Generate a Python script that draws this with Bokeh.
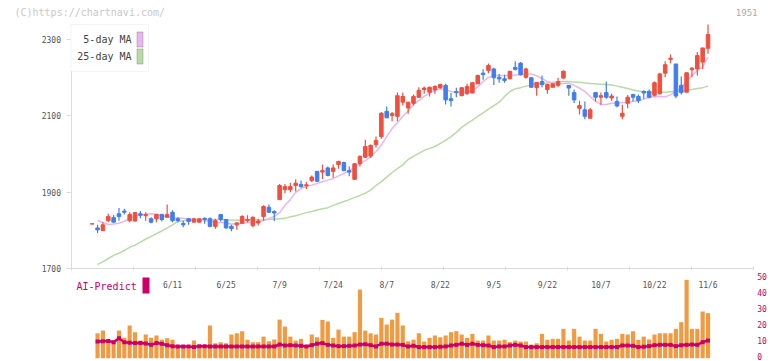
import numpy as np
from bokeh.plotting import figure
from bokeh.models import Range1d, LinearAxis, FixedTicker, Label, BoxAnnotation, ColumnDataSource
from bokeh.embed import file_html
from bokeh.resources import INLINE

# ---------------- data ----------------
dates = ["5/21", "5/22", "5/23", "5/26", "5/27", "5/28", "5/29", "5/30",
         "6/2", "6/3", "6/4", "6/5", "6/6", "6/9", "6/10", "6/11", "6/12", "6/13",
         "6/16", "6/17", "6/18", "6/19", "6/20", "6/23", "6/24", "6/25", "6/26", "6/27", "6/30",
         "7/1", "7/2", "7/3", "7/4", "7/7", "7/8", "7/9", "7/10", "7/11", "7/14", "7/15",
         "7/16", "7/17", "7/18", "7/22", "7/23", "7/24", "7/25", "7/28", "7/29", "7/30", "7/31",
         "8/1", "8/4", "8/5", "8/6", "8/7", "8/8", "8/12", "8/13", "8/14", "8/15",
         "8/18", "8/19", "8/20", "8/21", "8/22", "8/25", "8/26", "8/27", "8/28", "8/29",
         "9/1", "9/2", "9/3", "9/4", "9/5", "9/8", "9/9", "9/10", "9/11", "9/12",
         "9/16", "9/17", "9/18", "9/19", "9/22", "9/24", "9/25", "9/26", "9/29", "9/30",
         "10/1", "10/2", "10/3", "10/6", "10/7", "10/8", "10/9", "10/10", "10/14", "10/15",
         "10/16", "10/17", "10/20", "10/21", "10/22", "10/23", "10/24", "10/27", "10/28",
         "10/29", "10/30", "10/31", "11/4", "11/5", "11/6"]

opens = [1817, 1807, 1800, 1826, 1834, 1844, 1851, 1826, 1825, 1844,
         1839, 1831, 1831, 1842, 1835, 1848, 1831, 1819, 1831, 1822,
         1822, 1832, 1831, 1811, 1842, 1829, 1811, 1815, 1819, 1826,
         1813, 1820, 1837, 1861, 1850, 1881, 1907, 1907, 1918, 1921,
         1917, 1931, 1955, 1953, 1964, 1955, 1973, 1978, 1957, 1934,
         1975, 1992, 1995, 2025, 2046, 2112, 2101, 2099, 2136, 2121,
         2133, 2149, 2169, 2162, 2168, 2174, 2180, 2145, 2164, 2153,
         2158, 2160, 2184, 2212, 2219, 2223, 2201, 2197, 2197, 2227,
         2238, 2201, 2200, 2174, 2190, 2169, 2175, 2180, 2199, 2180,
         2161, 2120, 2116, 2094, 2161, 2149, 2161, 2147, 2138, 2099,
         2133, 2156, 2151, 2164, 2164, 2154, 2158, 2212, 2248, 2236,
         2180, 2162, 2221, 2223, 2241, 2277]
highs = [1818, 1815, 1822, 1844, 1841, 1859, 1857, 1848, 1848, 1851,
         1848, 1835, 1844, 1844, 1868, 1853, 1835, 1826, 1831, 1831,
         1831, 1835, 1835, 1831, 1842, 1829, 1815, 1822, 1840, 1840,
         1837, 1831, 1866, 1868, 1853, 1922, 1922, 1925, 1934, 1931,
         1928, 1944, 1955, 1973, 1968, 1973, 1983, 1980, 1968, 1977,
         1997, 2038, 2025, 2046, 2110, 2125, 2110, 2161, 2161, 2136,
         2156, 2175, 2177, 2177, 2180, 2184, 2184, 2160, 2174, 2174,
         2184, 2187, 2208, 2222, 2237, 2226, 2210, 2208, 2217, 2243,
         2241, 2226, 2201, 2188, 2206, 2184, 2184, 2200, 2219, 2180,
         2169, 2140, 2138, 2121, 2161, 2161, 2190, 2158, 2151, 2129,
         2155, 2158, 2156, 2167, 2169, 2190, 2213, 2243, 2261, 2236,
         2203, 2213, 2228, 2267, 2278, 2339]
lows = [1817, 1794, 1800, 1822, 1822, 1826, 1842, 1822, 1824, 1832,
        1826, 1819, 1822, 1824, 1835, 1822, 1822, 1809, 1815, 1822,
        1822, 1818, 1809, 1805, 1824, 1805, 1798, 1802, 1818, 1822,
        1809, 1813, 1826, 1846, 1825, 1880, 1898, 1900, 1902, 1912,
        1909, 1927, 1927, 1935, 1942, 1938, 1962, 1955, 1942, 1934,
        1968, 1990, 1990, 2017, 2040, 2095, 2086, 2086, 2127, 2106,
        2127, 2147, 2158, 2151, 2158, 2171, 2130, 2125, 2149, 2153,
        2156, 2160, 2184, 2195, 2212, 2181, 2187, 2187, 2197, 2219,
        2206, 2197, 2174, 2153, 2175, 2158, 2175, 2175, 2197, 2153,
        2134, 2104, 2091, 2094, 2138, 2129, 2145, 2140, 2123, 2091,
        2120, 2138, 2134, 2145, 2146, 2151, 2156, 2201, 2238, 2146,
        2156, 2162, 2201, 2206, 2223, 2263]
closes = [1818, 1802, 1815, 1837, 1822, 1837, 1848, 1842, 1847, 1840,
          1842, 1822, 1842, 1829, 1842, 1826, 1826, 1815, 1824, 1831,
          1831, 1829, 1811, 1826, 1829, 1807, 1805, 1820, 1837, 1829,
          1835, 1825, 1863, 1848, 1846, 1918, 1915, 1915, 1924, 1915,
          1920, 1940, 1929, 1957, 1944, 1964, 1981, 1957, 1953, 1975,
          1994, 2020, 2023, 2036, 2107, 2095, 2106, 2153, 2151, 2136,
          2151, 2167, 2173, 2175, 2177, 2182, 2142, 2140, 2161, 2174,
          2177, 2187, 2206, 2208, 2232, 2200, 2197, 2193, 2217, 2222,
          2208, 2223, 2175, 2188, 2182, 2182, 2184, 2190, 2217, 2173,
          2142, 2127, 2099, 2116, 2149, 2153, 2149, 2152, 2126, 2107,
          2149, 2149, 2140, 2160, 2149, 2187, 2210, 2234, 2251, 2152,
          2161, 2213, 2225, 2258, 2278, 2313]

ma5 = [None,
       1827, 1821, 1816, 1817, 1819, 1824, 1832, 1838, 1841, 1843,
       1844, 1843, 1839, 1836, 1833, 1833, 1832, 1830, 1829, 1828,
       1826, 1825, 1822, 1821, 1820, 1817, 1817, 1820, 1821, 1822,
       1824, 1826, 1832, 1837, 1847, 1866, 1881, 1900, 1910, 1915,
       1919, 1923, 1928, 1932, 1936, 1943, 1949, 1957, 1966, 1976,
       1983, 1993, 2007, 2023, 2046, 2067, 2082, 2099, 2113, 2130,
       2140, 2151, 2160, 2167, 2171, 2169, 2164, 2161, 2161, 2163,
       2167, 2176, 2190, 2201, 2206, 2206, 2206, 2206, 2207, 2208,
       2210, 2210, 2205, 2198, 2190, 2186, 2184, 2185, 2186, 2180,
       2173, 2164, 2151, 2138, 2130, 2130, 2133, 2134, 2135, 2136,
       2138, 2140, 2144, 2148, 2151, 2150, 2150, 2155, 2164, 2174,
       2190, 2206, 2219, 2229, 2253]
ma25 = [None,
        1711, 1719, 1727, 1735, 1741, 1748, 1756, 1762, 1770, 1778,
        1785, 1792, 1799, 1807, 1815, 1824, 1826, 1828, 1829, 1828,
        1827, 1828, 1829, 1829, 1828, 1828, 1827, 1828, 1828, 1829,
        1828, 1828, 1829, 1830, 1831, 1832, 1836, 1839, 1843, 1847,
        1850, 1854, 1857, 1860, 1866, 1871, 1876, 1881, 1887, 1892,
        1898, 1906, 1918, 1928, 1940, 1952, 1962, 1972, 1986, 1994,
        2002, 2010, 2015, 2020, 2028, 2036, 2046, 2057, 2070, 2080,
        2089, 2099, 2108, 2118, 2127, 2136, 2151, 2164, 2171, 2174,
        2178, 2181, 2184, 2185, 2186, 2188, 2189, 2190, 2190, 2189,
        2188, 2186, 2185, 2184, 2183, 2182, 2181, 2178, 2175, 2172,
        2168, 2165, 2163, 2162, 2162, 2162, 2162, 2163, 2164, 2165,
        2167, 2169, 2172, 2174, 2178]

volume = [None,
          15.7, 17.4, 11.1, 9.4, 17.4, 12.8, 20.6, 16.4, 11.1, 14.9,
          12.8, 14.3, 11.6, 12.6, 11.6, 8.0, 8.0, 6.3, 11.1, 8.0,
          8.0, 20.6, 9.4, 10.1, 9.4, 14.9, 15.7, 17.0, 11.6, 10.1,
          10.1, 13.6, 10.7, 11.8, 24.3, 19.9, 13.6, 11.1, 12.2, 8.0,
          14.9, 13.2, 24.1, 23.1, 12.8, 18.0, 13.6, 13.6, 16.4, 43.2,
          17.4, 15.7, 14.9, 25.4, 21.2, 24.3, 28.6, 20.6, 10.6, 11.7,
          15.7, 10.5, 12.8, 14.3, 13.2, 14.3, 16.4, 17.0, 14.9, 12.8,
          15.3, 11.1, 11.1, 14.3, 11.1, 11.1, 11.6, 10.1, 11.1, 10.5,
          10.5, 8.6, 9.4, 15.3, 11.6, 12.2, 12.2, 18.5, 11.1, 18.5,
          13.6, 11.1, 11.1, 18.5, 15.3, 10.5, 11.6, 12.2, 15.3, 14.9,
          17.0, 11.6, 13.6, 11.8, 14.9, 15.7, 15.7, 15.7, 18.5, 22.7,
          49.3, 18.5, 18.5, 29.4, 28.4]
ai_predict = [None,
              10.5, 10.7, 10.9, 10.1, 12.6, 10.1, 9.7, 9.5, 9.5, 9.3,
              8.4, 9.5, 9.1, 8.2, 7.6, 7.4, 7.4, 7.4, 7.0, 7.6,
              7.6, 7.4, 7.4, 7.4, 7.4, 7.4, 7.4, 7.4, 7.4, 7.4,
              7.4, 7.4, 7.4, 7.4, 8.6, 8.0, 8.2, 8.0, 7.8, 7.4,
              8.2, 9.1, 9.5, 8.4, 8.0, 7.6, 7.6, 7.8, 8.0, 8.6,
              8.8, 8.2, 7.4, 9.1, 9.1, 8.6, 8.6, 8.4, 7.4, 7.8,
              7.0, 7.0, 7.0, 7.0, 7.2, 7.4, 8.0, 8.4, 9.1, 8.4,
              9.1, 8.4, 8.2, 8.0, 7.0, 7.4, 7.4, 8.0, 8.4, 8.0,
              7.0, 7.0, 7.0, 7.0, 7.0, 7.0, 7.0, 7.0, 7.0, 7.0,
              7.0, 7.0, 7.0, 7.0, 7.0, 7.0, 7.0, 7.0, 8.0, 8.0,
              7.8, 7.0, 7.2, 7.6, 8.2, 8.4, 8.4, 8.4, 7.6, 8.2,
              8.4, 8.6, 8.4, 10.1, 11.1]

tick_labels = ["6/11", "6/25", "7/9", "7/24", "8/7", "8/22", "9/5", "9/22", "10/7", "10/22", "11/6"]
price_ticks = [1700, 1900, 2100, 2300]
volume_ticks = [0, 10, 20, 30, 40, 50]
legend_labels = ["5-day MA", "25-day MA"]
code = "1951"
credit = "(C)https://chartnavi.com/"

# ---------------- layout helpers (picture pixel -> data) ----------------
W, H = 772, 361
X_FIRST, X_STEP = 91.7, 5.355          # x of the first session, px per session
Y_1700, PX_PER_YEN = 268.3, 229.3 / 600.0
Y_V0, PX_PER_VOL = 357.7, 1.588
LABEL_LIFT = 2.0                        # keep the "0" label inside the canvas


def dx(px):
    return (px - X_FIRST) / X_STEP


def dy(py):
    return 1700 + (Y_1700 - py) / PX_PER_YEN


def dv(py):
    return (Y_V0 - py) / PX_PER_VOL


FONT = "DejaVu Sans Mono"
RED, BLUE = "#f24e3d", "#3f7ef0"
PINK, GREEN = "#e9b6ee", "#b6dca4"
ORANGE, MAGENTA = "#f29a42", "#cc0066"
AXIS = "#dcdcdc"

n = len(dates)
idx = list(range(n))

p = figure(width=W, height=H, output_backend="svg", toolbar_location=None,
           x_range=Range1d(dx(0), dx(W)), y_range=Range1d(dy(H), dy(0)),
           x_axis_type=None, y_axis_type=None, min_border=0,
           outline_line_color=None, background_fill_color="white", border_fill_color="white")
p.extra_y_ranges = {"vol": Range1d(dv(H), dv(0)),
                    "vol_labels": Range1d(dv(H + LABEL_LIFT), dv(LABEL_LIFT))}

# ---------------- volume panel ----------------
vsrc = ColumnDataSource(dict(x=idx, v=np.array(volume, dtype=float), ai=np.array(ai_predict, dtype=float)))
p.vbar(x="x", top="v", bottom=0, width=0.78, fill_color=ORANGE, line_color=None,
       y_range_name="vol", source=vsrc)
p.line(x="x", y="ai", line_color=MAGENTA, line_width=2.5, y_range_name="vol", source=vsrc)
p.scatter(x="x", y="ai", marker="square", size=4, fill_color=MAGENTA, line_color=None,
          y_range_name="vol", source=vsrc)

# ---------------- price panel ----------------
p.line(idx, np.array(ma25, dtype=float), line_color=GREEN, line_width=1.5)
p.line(idx, np.array(ma5, dtype=float), line_color=PINK, line_width=1.5)

colors = [RED if c >= o else BLUE for o, c in zip(opens, closes)]
csrc = ColumnDataSource(dict(x=idx, o=opens, h=highs, l=lows, c=closes, col=colors))
p.segment(x0="x", y0="l", x1="x", y1="h", line_color="col", line_width=1.2, source=csrc)
p.vbar(x="x", top="o", bottom="c", width=0.66, fill_color="col", line_color="col",
       line_width=1, source=csrc)

# ---------------- axes ----------------
yax = LinearAxis(fixed_location=dx(70.5), bounds=(1700, dy(24)),
                 ticker=FixedTicker(ticks=price_ticks),
                 axis_line_color=AXIS, major_tick_line_color=AXIS, minor_tick_line_color=None,
                 major_tick_in=0, major_tick_out=5, major_label_standoff=5,
                 major_label_text_font=FONT, major_label_text_font_size="8px",
                 major_label_text_color="#555555")
p.add_layout(yax, "left")

label_idx = [dates.index(t) for t in tick_labels]
div_ticks = [dx(70.7 + 62.0 * k) for k in range(12)]
xax = LinearAxis(fixed_location=1700, bounds=(dx(70.5), dx(753.2)),
                 ticker=FixedTicker(ticks=label_idx, minor_ticks=div_ticks),
                 major_label_overrides={i: t for i, t in zip(label_idx, tick_labels)},
                 axis_line_color=AXIS, major_tick_line_color=None, major_tick_in=0, major_tick_out=0,
                 minor_tick_line_color=AXIS, minor_tick_in=2, minor_tick_out=2,
                 major_label_standoff=10, major_label_text_font=FONT,
                 major_label_text_font_size="8px", major_label_text_color="#555555")
p.add_layout(xax, "below")

vax = LinearAxis(y_range_name="vol_labels", fixed_location=dx(752.7), bounds=(0, 50),
                 ticker=FixedTicker(ticks=volume_ticks),
                 axis_line_color=None, major_tick_line_color=None, minor_tick_line_color=None,
                 major_tick_in=0, major_tick_out=0, major_label_standoff=4,
                 major_label_text_font=FONT, major_label_text_font_size="8px",
                 major_label_text_color=MAGENTA)
p.add_layout(vax, "right")

# ---------------- legend / texts ----------------
p.add_layout(BoxAnnotation(left=dx(70.5), right=dx(148), top=dy(24), bottom=dy(71),
                           fill_color="white", fill_alpha=1, line_color=AXIS, line_width=1))
for lab, col, cy in zip(legend_labels, [PINK, GREEN], [39, 56]):
    p.add_layout(Label(x=dx(131), y=dy(cy), text=lab, text_align="right", text_baseline="middle",
                       text_font=FONT, text_font_size="10px", text_color="#444444"))
    p.add_layout(BoxAnnotation(left=dx(136.5), right=dx(142.5), top=dy(cy - 7.5), bottom=dy(cy + 7.5),
                               fill_color=col, fill_alpha=1, line_color="#555555", line_width=1))

p.add_layout(Label(x=dx(14), y=dy(12), text=credit, text_align="left", text_baseline="middle",
                   text_font=FONT, text_font_size="10px", text_color="#c8c8c8"))
p.add_layout(Label(x=dx(757), y=dy(12), text=code, text_align="right", text_baseline="middle",
                   text_font=FONT, text_font_size="9px", text_color="#aaaaaa"))

p.add_layout(Label(x=dx(76), y=dy(286), text="AI-Predict", text_align="left", text_baseline="middle",
                   text_font=FONT, text_font_size="10px", text_color=MAGENTA))
p.add_layout(BoxAnnotation(left=dx(142), right=dx(149), top=dy(277), bottom=dy(293),
                           fill_color=MAGENTA, fill_alpha=1, line_color=None))

open("out.html", "w").write(file_html(p, INLINE))
